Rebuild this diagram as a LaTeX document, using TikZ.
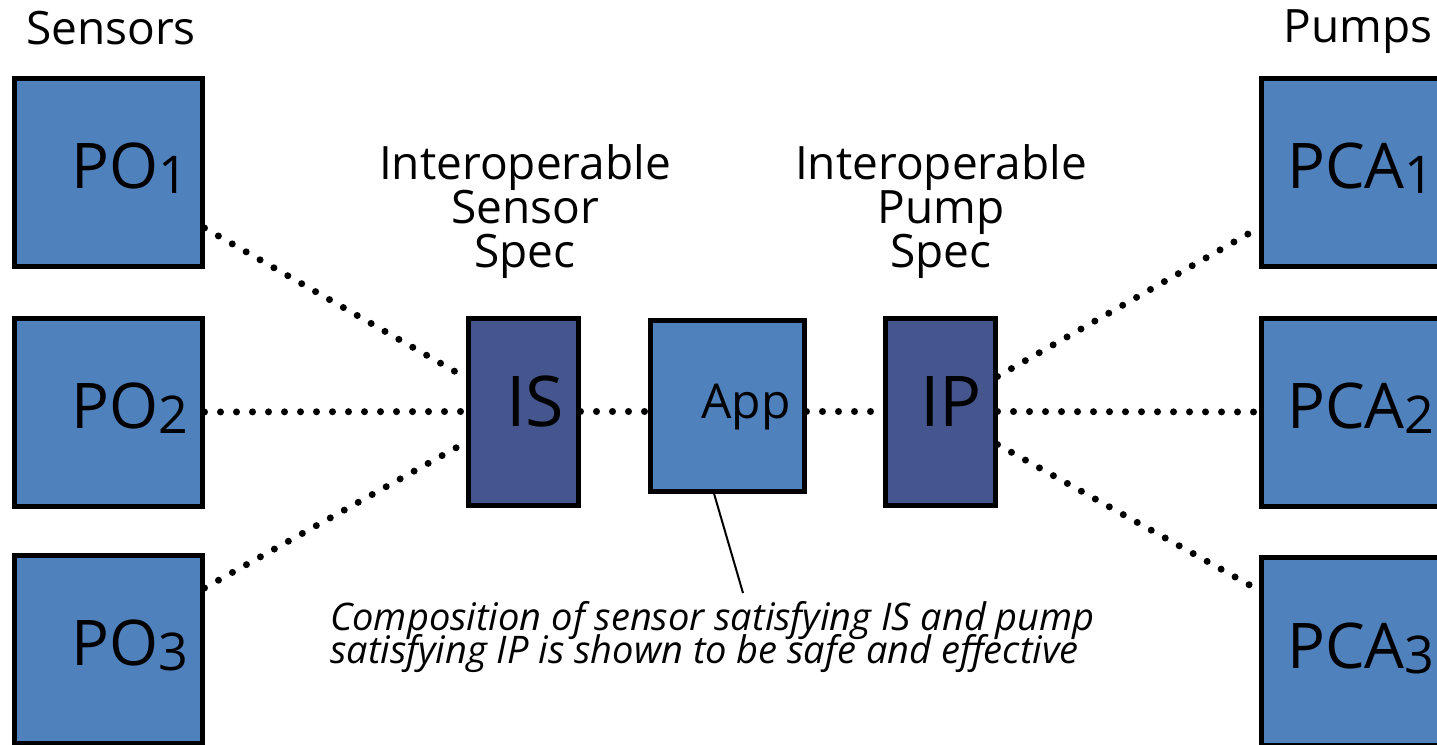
\documentclass[tikz,border=0pt]{standalone}
\usepackage{fontspec}
\setmainfont{Open Sans}
\usetikzlibrary{calc}
\definecolor{unitblue}{HTML}{4F81BD}
\definecolor{specblue}{HTML}{45558E}
\newcommand\fsz[2]{\fontsize{#1}{#2}\selectfont\lineskiplimit=-100pt}
\newcommand\subdig[1]{{\fsz{52}{52}\raisebox{-5pt}{#1}}}

\begin{document}
\begin{tikzpicture}[x=1pt,y=-1pt,
  unit/.style={draw=black,line width=5pt,fill=unitblue,minimum width=188pt,minimum height=188pt,inner sep=0pt},
  specbox/.style={draw=black,line width=5pt,fill=specblue,minimum width=110pt,minimum height=187pt,inner sep=0pt},
  appbox/.style={draw=black,line width=5pt,fill=unitblue,minimum width=154pt,minimum height=171pt,inner sep=0pt},
  link/.style={line width=7pt,line cap=round,dash pattern=on 0pt off 16pt},
  unittxt/.style={anchor=base west,inner sep=0pt,font=\fsz{63}{63}},
  head/.style={inner sep=0pt,font=\fsz{46}{46}},
  spechead/.style={inner sep=0pt,align=center,font=\fsz{46}{44}},
  ]
\useasboundingbox (0,0) rectangle (1437,744);
\clip (0,0) rectangle (1437,744);

% sensors
\node[unit] (po1) at (108,172) {};
\node[unit] (po2) at (108,412) {};
\node[unit] (po3) at (108,649) {};
\node[unittxt] (po1t) at (71,188) {PO\subdig{1}};
\node[unittxt] (po2t) at (71,428) {PO\subdig{2}};
\node[unittxt] (po3t) at (71,665) {PO\subdig{3}};

% pumps
\node[unit] (pca1) at (1355,172) {};
\node[unit] (pca2) at (1355,412) {};
\node[unit] (pca3) at (1355,651) {};
\node[unittxt] (pca1t) at (1287,188) {PCA\subdig{1}};
\node[unittxt] (pca2t) at (1287,428) {PCA\subdig{2}};
\node[unittxt] (pca3t) at (1287,668) {PCA\subdig{3}};

% interface specs and the app
\node[specbox] (is) at (523,411.5) {};
\node[specbox] (ip) at (940,411.5) {};
\node[appbox] (app) at (727,405.5) {};
\node[anchor=base,inner sep=0pt,font=\fsz{70}{70}] (ist) at (535,426) {IS};
\node[anchor=base,inner sep=0pt,font=\fsz{70}{70}] (ipt) at (951,426) {IP};
\node[anchor=base,inner sep=0pt,font=\fsz{48}{48}] (appt) at (746,418) {App};

% headings
\node[head] (sensors) at (111,28) {Sensors};
\node[head] (pumps) at (1358,32) {Pumps};
\node[spechead] (ish) at (525,212) {Interoperable\\Sensor\\Spec};
\node[spechead] (iph) at (941,212) {Interoperable\\Pump\\Spec};

% dotted links
\draw[link] ([yshift=-56pt]po1.east) -- ([yshift=34pt]is.west);
\draw[link] (po2.east) -- (is.west);
\draw[link] ([yshift=61pt]po3.east) -- ([yshift=-31pt]is.west);
\draw[link] (is.east) -- (is.east -| app.west);
\draw[link] (ip.west -| app.east) -- (ip.west);
\draw[link] ([yshift=35pt]ip.east) -- ([yshift=-56pt]pca1.west);
\draw[link] (ip.east) -- (pca2.west);
\draw[link] ([yshift=-33pt]ip.east) -- ([yshift=61pt]pca3.west);

% note with its callout (base anchor sits on the last line)
\node[anchor=base west,inner sep=0pt,align=left,font=\fsz{38}{33}\itshape] (note) at (330,663)
  {Composition of sensor satisfying IS and pump\\satisfying IP is shown to be safe and effective};
\coordinate (callend) at (743,593);
\draw[line width=2pt] ([xshift=-13pt]app.south) -- (callend);
\end{tikzpicture}
\end{document}
